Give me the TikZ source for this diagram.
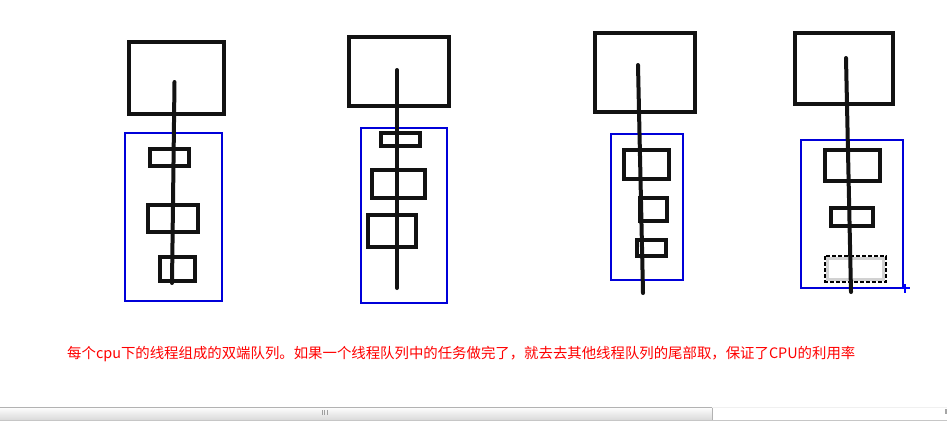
\documentclass[tikz,border=0pt]{standalone}
\usepackage{fontspec}
\newfontfamily\cjk{Noto Sans CJK SC}
\begin{document}
\begin{tikzpicture}[x=1pt,y=-1pt,
  cpubox/.style={draw=black!93,line width=4pt,inner sep=0pt},
  queue/.style={draw=blue!85!black,line width=1.3pt,inner sep=0pt},
  task/.style={draw=black!93,line width=3.6pt,inner sep=0pt},
  selbox/.style={draw=gray!35,line width=3.6pt,inner sep=0pt},
  thread/.style={black!93,line width=4pt,line cap=round}]
\useasboundingbox (0,0) rectangle (947,421);
% queues
\foreach \n/\x/\y/\w/\h in {1/173.5/217/97/168,2/404/215.5/86/175,3/647/207/72/146,4/852/214/102/148}
  \node[queue,minimum width=\w pt,minimum height=\h pt] (queue\n) at (\x,\y) {};
% cpus
\foreach \n/\x/\y/\w/\h in {1/176.5/78/95/72,2/399/71.5/100/69,3/645/72.5/100/79,4/844/68.5/98/71}
  \node[cpubox,minimum width=\w pt,minimum height=\h pt] (cpu\n) at (\x,\y) {};
% tasks
\foreach \n/\x/\y/\w/\h in {11/169.5/157.5/39/17,12/173/218.5/50/27,13/177.5/269/35/24,
    21/400.5/139.5/39/13,22/398.5/184/53/28,23/392/231/48/32,
    31/646.5/164.5/45/29,32/653.5/209.5/27/23,33/651.5/248/29/16,
    41/852.5/165.5/55/31,42/852/217/42/18}
  \node[task,minimum width=\w pt,minimum height=\h pt] (task\n) at (\x,\y) {};
\node[selbox,minimum width=57pt,minimum height=22pt] (task43) at (855.5,269) {};
\draw[white,line width=2pt] (task43.north west) rectangle (task43.south east);
\draw[black,line width=1.5pt,dash pattern=on 4pt off 2pt] (task43.north west) rectangle (task43.south east);
% threads
\foreach \n/\xa/\ya/\xb/\yb in {1/174.5/82/172/283,2/397/70/397/288,3/638/65/643/293,4/846/58/851/292}{
  \coordinate (top\n) at (\xa,\ya);
  \coordinate (end\n) at (\xb,\yb);
  \draw[thread] (top\n) -- (end\n);
}
% cursor
\coordinate (cur) at (905,288);
\draw[blue,line width=1.2pt] ([xshift=-4.5pt]cur) -- ([xshift=4.5pt]cur) ([yshift=-4.5pt]cur) -- ([yshift=4.5pt]cur);
\node[anchor=west,text=red,inner sep=0pt,font=\cjk\fontsize{14.4}{18}\selectfont] (note) at (67,354)
  {每个cpu下的线程组成的双端队列。如果一个线程队列中的任务做完了，就去去其他线程队列的尾部取，保证了CPU的利用率};
% scrollbar
\shade[top color=white,bottom color=gray!30] (0,407) rectangle (712,420);
\draw[gray!60] (0,407) -- (712,407) -- (712,420);
\draw[gray!45] (0,420) -- (947,420);
\draw[gray!12] (712,407.5) -- (947,407.5);
\foreach \g in {322,324.5,327}
  \draw[gray!75,line width=0.8pt] (\g,410) -- (\g,415);
\fill[gray!70] (945,409) rectangle (947,414);
\end{tikzpicture}
\end{document}
